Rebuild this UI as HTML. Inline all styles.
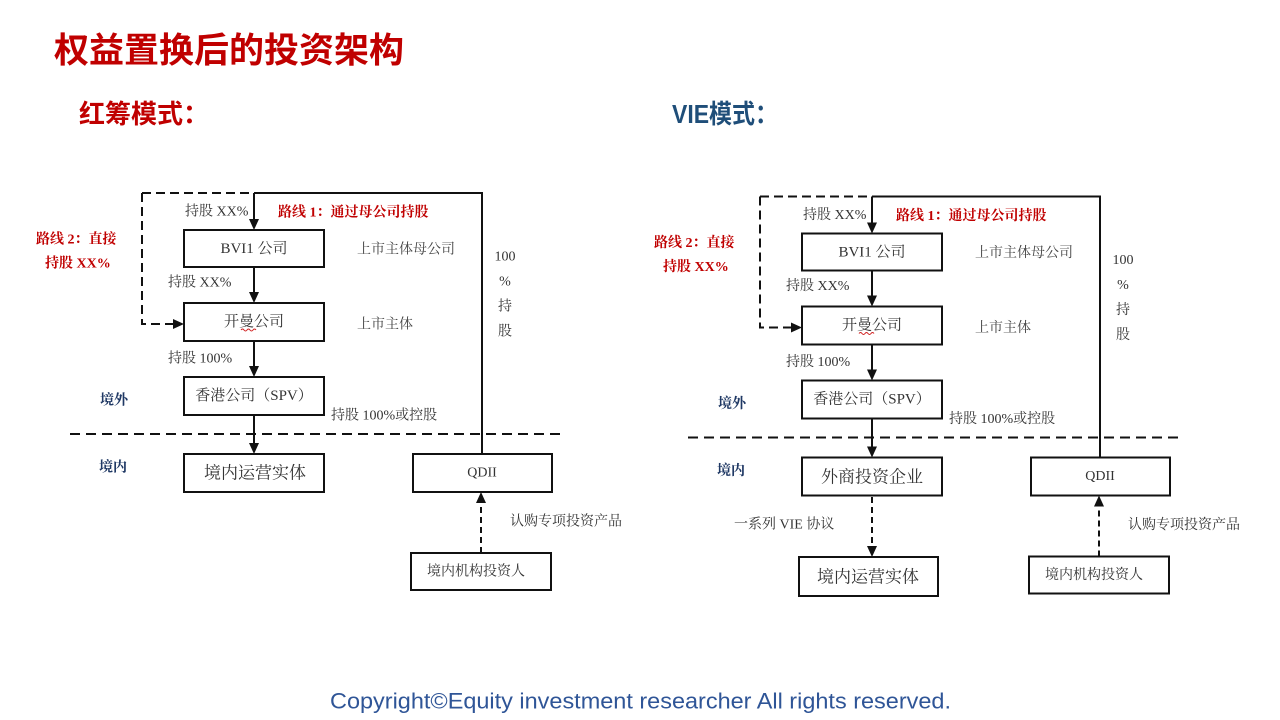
<!DOCTYPE html>
<html>
<head>
<meta charset="utf-8">
<style>
  html,body{margin:0;padding:0;background:#fff;}
  svg{display:block;}
  .t{font-family:"Liberation Serif","Noto Serif CJK SC",serif;fill:#333;font-size:14px;}
  .red{font-family:"Liberation Serif","Noto Serif CJK SC",serif;fill:#c00000;font-size:14px;font-weight:bold;}
  .blue{font-family:"Liberation Serif","Noto Serif CJK SC",serif;fill:#1f3864;font-size:14px;font-weight:bold;}
  .box{fill:#fff;stroke:#111;stroke-width:2;}
  .ln{stroke:#111;stroke-width:2;fill:none;}
  .dl{stroke:#111;stroke-width:2;fill:none;stroke-dasharray:10 6;}
  .dv{stroke:#111;stroke-width:2;fill:none;stroke-dasharray:9 5;}
  .ds{stroke:#111;stroke-width:2;fill:none;stroke-dasharray:6 4;}
  .ah{fill:#111;}
</style>
</head>
<body>
<svg width="1280" height="720" viewBox="0 0 1280 720" xmlns="http://www.w3.org/2000/svg">
  <!-- Headers -->
  <text x="54" y="51" dominant-baseline="central" style="font-family:'Liberation Sans','Noto Sans CJK SC',sans-serif;font-weight:bold;font-size:35px;fill:#c00000;">权益置换后的投资架构</text>
  <text x="79" y="114" dominant-baseline="central" style="font-family:'Liberation Sans','Noto Sans CJK SC',sans-serif;font-weight:bold;font-size:26px;fill:#c00000;">红筹模式：</text>
  <text x="672" y="114" dominant-baseline="central" textLength="106" lengthAdjust="spacingAndGlyphs" style="font-family:'Liberation Sans','Noto Sans CJK SC',sans-serif;font-weight:bold;font-size:26px;fill:#1f4e79;">VIE模式：</text>

  <!-- Common diagram definition -->
  <defs>
    <g id="diag">
      <!-- top lines -->
      <path class="dv" d="M142,193 H254"/>
      <path class="ln" d="M254,193 H482 V454"/>
      <path class="ln" d="M254,193 V220"/>
      <polygon class="ah" points="249,219 259,219 254,230"/>
      <!-- dashed route 2 -->
      <path class="dv" d="M142,193 V324 H174"/>
      <polygon class="ah" points="173,319 173,329 184,324"/>
      <!-- BVI box -->
      <rect class="box" x="184" y="230" width="140" height="37"/>
      <path class="ln" d="M254,267 V293"/>
      <polygon class="ah" points="249,292 259,292 254,303"/>
      <!-- Cayman box -->
      <rect class="box" x="184" y="303" width="140" height="38"/>
      <path class="ln" d="M254,341 V367"/>
      <polygon class="ah" points="249,366 259,366 254,377"/>
      <!-- HK box -->
      <rect class="box" x="184" y="377" width="140" height="38"/>
      <path class="ln" d="M254,415 V444"/>
      <polygon class="ah" points="249,443 259,443 254,454"/>
      <!-- dashed border line -->
      <path class="dl" d="M70,434 H565"/>
      <!-- lower box -->
      <rect class="box" x="184" y="454" width="140" height="38"/>
      <!-- QDII -->
      <rect class="box" x="413" y="454" width="139" height="38"/>
      <!-- investors -->
      <rect class="box" x="411" y="553" width="140" height="37"/>
      <path class="ds" d="M481,553 V503"/>
      <polygon class="ah" points="476,503 486,503 481,492"/>

      <!-- texts -->
      <text class="t" x="185" y="212" dominant-baseline="central">持股 XX%</text>
      <text class="red" x="278" y="213" dominant-baseline="central">路线 1：通过母公司持股</text>
      <text class="red" x="36" y="240" dominant-baseline="central">路线 2：直接</text>
      <text class="red" x="45" y="264" dominant-baseline="central">持股 XX%</text>
      <text class="t" x="254" y="249" text-anchor="middle" dominant-baseline="central" style="font-size:15px">BVI1 公司</text>
      <text class="t" x="357" y="250" dominant-baseline="central" style="fill:#444">上市主体母公司</text>
      <text class="t" x="168" y="283" dominant-baseline="central">持股 XX%</text>
      <text class="t" x="254" y="322" text-anchor="middle" dominant-baseline="central" style="font-size:15px">开曼公司</text>
      <path d="M241,330 q1.5,-2 3,0 t3,0 t3,0 t3,0 t3,0" stroke="#d02020" stroke-width="1" fill="none"/>
      <text class="t" x="357" y="325" dominant-baseline="central" style="fill:#444">上市主体</text>
      <text class="t" x="168" y="359" dominant-baseline="central">持股 100%</text>
      <text class="t" x="254" y="396" text-anchor="middle" dominant-baseline="central" style="font-size:15px">香港公司（SPV）</text>
      <text class="blue" x="100" y="401" dominant-baseline="central">境外</text>
      <text class="t" x="331" y="416" dominant-baseline="central">持股 100%或控股</text>
      <text class="blue" x="99" y="468" dominant-baseline="central">境内</text>
      <text class="t" x="482" y="473" text-anchor="middle" dominant-baseline="central">QDII</text>
      <text class="t" x="510" y="522" dominant-baseline="central">认购专项投资产品</text>
      <text class="t" x="476" y="572" text-anchor="middle" dominant-baseline="central">境内机构投资人</text>
      <text class="t" x="505" y="257" text-anchor="middle" dominant-baseline="central">100</text>
      <text class="t" x="505" y="282" text-anchor="middle" dominant-baseline="central">%</text>
      <text class="t" x="505" y="307" text-anchor="middle" dominant-baseline="central">持</text>
      <text class="t" x="505" y="332" text-anchor="middle" dominant-baseline="central">股</text>
    </g>
  </defs>

  <!-- Left diagram -->
  <use href="#diag" x="0" y="0"/>
  <text class="t" x="255" y="473" text-anchor="middle" dominant-baseline="central" style="font-size:17px">境内运营实体</text>

  <!-- Right diagram -->
  <use href="#diag" x="618" y="3.5"/>
  <text class="t" x="872" y="477" text-anchor="middle" dominant-baseline="central" style="font-size:17px">外商投资企业</text>
  <path class="ds" d="M872,497 V547"/>
  <polygon class="ah" points="867,546 877,546 872,557"/>
  <text class="t" x="734" y="525" dominant-baseline="central">一系列 VIE 协议</text>
  <rect class="box" x="799" y="557" width="139" height="39"/>
  <text class="t" x="868" y="577" text-anchor="middle" dominant-baseline="central" style="font-size:17px">境内运营实体</text>

  <!-- Footer -->
  <text x="330" y="701" dominant-baseline="central" textLength="621" lengthAdjust="spacingAndGlyphs" style="font-family:'Liberation Sans',sans-serif;font-size:22px;fill:#2f5597;">Copyright©Equity investment researcher  All rights reserved.</text>
</svg>
</body>
</html>
